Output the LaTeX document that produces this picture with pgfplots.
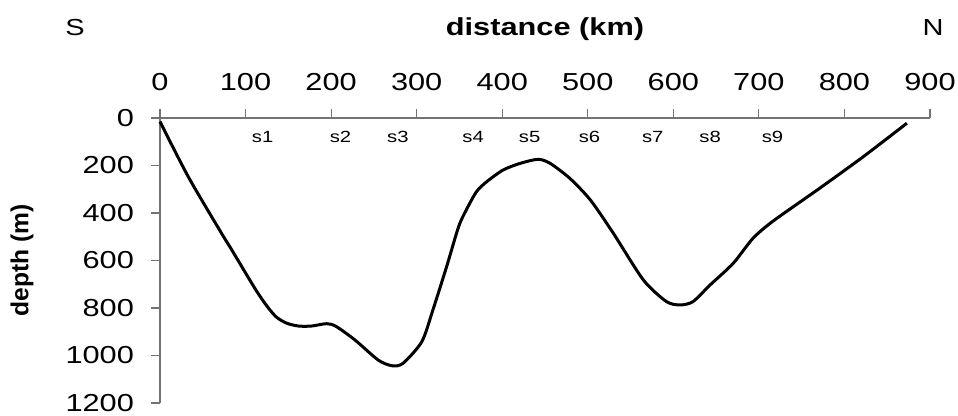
\documentclass[border=0pt]{standalone}
\usepackage{fontspec}
\setmainfont{Liberation Sans}[FakeStretch=1.25]
\newfontfamily\plainfont{Liberation Sans}
\usepackage{pgfplots}
\pgfplotsset{compat=1.18}

\begin{document}
\begin{tikzpicture}
\begin{axis}[
 name=ax,
 scale only axis,
 width=385pt, height=142.5pt,
 xmin=0, xmax=900, ymin=0, ymax=1200,
 y dir=reverse,
 axis x line=top, axis y line=left,
 axis line style={-, black!55, line width=0.6pt},
 tick style={black!55, line width=0.6pt},
 tick align=outside,
 major tick length=4.5pt,
 xtick={0,100,...,900}, ytick={0,200,...,1200},
 tick label style={font=\fontsize{12.3}{14}\selectfont, text=black},
 xticklabel shift=5.5pt,
 yticklabel shift=5pt,
 /pgf/number format/assume math mode=true,
 /pgf/number format/1000 sep={},
 scaled ticks=false,
 clip=false,
]
\addplot[black, line width=1.5pt, smooth, tension=0.45] coordinates {
(0,15) (33,247) (72,486) (84,556) (111,718) (125,792) (136,838) (148,864)
(162,876) (177,876) (195,866) (206,878) (228,935) (255,1019) (271,1043)
(284,1033) (306,942) (319,808) (335,626) (349,458) (358,387) (370,310)
(382,268) (401,219) (421,191) (442,174) (456,191) (479,254) (503,345)
(530,486) (565,682) (592,773) (608,787) (623,773) (643,703) (670,612)
(693,507) (717,433) (771,296) (822,163) (873,22)
};
\node[font=\fontsize{8.1}{10}\selectfont] at (axis cs:120,80) {s1};
\node[font=\fontsize{8.1}{10}\selectfont] at (axis cs:211,80) {s2};
\node[font=\fontsize{8.1}{10}\selectfont] at (axis cs:278,80) {s3};
\node[font=\fontsize{8.1}{10}\selectfont] at (axis cs:366,80) {s4};
\node[font=\fontsize{8.1}{10}\selectfont] at (axis cs:432,80) {s5};
\node[font=\fontsize{8.1}{10}\selectfont] at (axis cs:502,80) {s6};
\node[font=\fontsize{8.1}{10}\selectfont] at (axis cs:576,80) {s7};
\node[font=\fontsize{8.1}{10}\selectfont] at (axis cs:643,80) {s8};
\node[font=\fontsize{8.1}{10}\selectfont] at (axis cs:716,80) {s9};
\end{axis}
\node[font=\bfseries\fontsize{12.3}{14}\selectfont] at ([xshift=192.5pt,yshift=44.5pt]ax.north west) {distance (km)};
\node[font=\fontsize{11.6}{14}\selectfont] at ([xshift=-42.5pt,yshift=45pt]ax.north west) {S};
\node[font=\fontsize{11.6}{14}\selectfont] at ([xshift=386.5pt,yshift=45pt]ax.north west) {N};
\node[rotate=90, font=\plainfont\bfseries\fontsize{12.3}{14}\selectfont] at ([xshift=-69pt,yshift=-71.25pt]ax.north west) {depth (m)};
\pgfresetboundingbox
\path[use as bounding box] ([xshift=-80pt,yshift=59pt]ax.north west) rectangle ([xshift=399pt,yshift=-149pt]ax.north west);
\end{tikzpicture}
\end{document}
